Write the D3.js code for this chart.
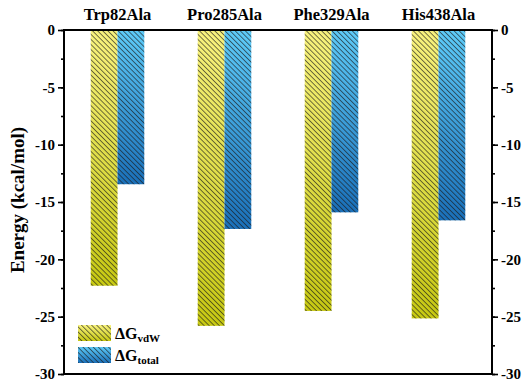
<!DOCTYPE html>
<html><head><meta charset="utf-8">
<script src="https://cdn.jsdelivr.net/npm/d3@7"></script>
<style>body{margin:0;background:#fff}svg{display:block}text{font-family:"Liberation Serif","Times New Roman",serif;font-weight:bold;fill:#000}</style>
</head><body>
<svg id="c" width="529" height="386"></svg>
<script>
const categories = ["Trp82Ala","Pro285Ala","Phe329Ala","His438Ala"];
const vdW = [-22.3, -25.8, -24.5, -25.15];
const total = [-13.45, -17.35, -15.9, -16.6];
const yTicks = [0,-5,-10,-15,-20,-25,-30];

const svg = d3.select("#c");
const m = {l:64, r:492, t:30, b:374};
const x = d3.scaleBand().domain(categories).range([m.l,m.r]).paddingInner(0.5).paddingOuter(0.25);
const xs = d3.scaleBand().domain(["vdW","total"]).range([0,x.bandwidth()]);
const y = d3.scaleLinear().domain([0,-30]).range([m.t,m.b]);

const defs = svg.append("defs");
function grad(id, c1, c2){
  const g = defs.append("linearGradient").attr("id",id).attr("x1",0).attr("y1",0).attr("x2",0).attr("y2",1);
  g.append("stop").attr("offset","0%").attr("stop-color",c1);
  g.append("stop").attr("offset","100%").attr("stop-color",c2);
}
grad("gy","#f8f27e","#c6c812");
grad("gb","#5ecbf8","#1a6fb8");
const pat = defs.append("pattern").attr("id","hatch").attr("patternUnits","userSpaceOnUse")
  .attr("width",3.6).attr("height",3.6).attr("patternTransform","rotate(-45)");
pat.append("line").attr("x1",0).attr("y1",0).attr("x2",0).attr("y2",3.6).attr("stroke","#1a1a1a").attr("stroke-width",1.2);

const series = [{k:"vdW",v:vdW,g:"url(#gy)"},{k:"total",v:total,g:"url(#gb)"}];
series.forEach(s=>{
  const gsel = svg.append("g");
  gsel.selectAll("rect.f").data(categories).join("rect")
    .attr("x",d=>x(d)+xs(s.k)).attr("width",xs.bandwidth())
    .attr("y",y(0)).attr("height",(d,i)=>y(s.v[i])-y(0))
    .attr("fill",s.g);
  gsel.selectAll("rect.h").data(categories).join("rect")
    .attr("x",d=>x(d)+xs(s.k)).attr("width",xs.bandwidth())
    .attr("y",y(0)).attr("height",(d,i)=>y(s.v[i])-y(0))
    .attr("fill","url(#hatch)");
});

// axes
const minor = d3.range(0,-30.1,-2.5);
const fmt = d => String(d);
const left = svg.append("g").attr("transform",`translate(${m.l},0)`);
left.call(d3.axisLeft(y).tickValues(minor).tickSize(3).tickFormat(""));
left.append("g").call(d3.axisLeft(y).tickValues(yTicks).tickSize(6).tickPadding(3).tickFormat(fmt));
const right = svg.append("g").attr("transform",`translate(${m.r},0)`);
right.call(d3.axisRight(y).tickValues(minor).tickSize(3).tickFormat(""));
right.append("g").call(d3.axisRight(y).tickValues(yTicks).tickSize(6).tickPadding(3).tickFormat(fmt));
svg.selectAll(".domain").remove();
svg.selectAll(".tick line").attr("stroke","#000").attr("stroke-width",1.6);
svg.selectAll(".tick text").attr("font-size",15).attr("font-family","Liberation Serif").attr("font-weight","bold").attr("fill","#000");

svg.append("rect").attr("x",m.l).attr("y",m.t).attr("width",m.r-m.l).attr("height",m.b-m.t)
  .attr("fill","none").attr("stroke","#000").attr("stroke-width",2);

// category labels
svg.selectAll("text.cat").data(categories).join("text").attr("class","cat")
  .attr("x",d=>x(d)+x.bandwidth()/2).attr("y",20).attr("text-anchor","middle")
  .attr("font-size",16.5).text(d=>d);

// y title
svg.append("text").attr("transform","translate(24,200) rotate(-90)").attr("text-anchor","middle")
  .attr("font-size",19).text("Energy (kcal/mol)");

// legend
const leg = [{g:"url(#gy)",main:"ΔG",sub:"vdW",y:325},{g:"url(#gb)",main:"ΔG",sub:"total",y:347}];
leg.forEach(l=>{
  svg.append("rect").attr("x",78).attr("y",l.y).attr("width",33).attr("height",16).attr("fill",l.g);
  svg.append("rect").attr("x",78).attr("y",l.y).attr("width",33).attr("height",16).attr("fill","url(#hatch)");
  const t = svg.append("text").attr("x",115).attr("y",l.y+14).attr("font-size",16);
  t.append("tspan").text(l.main);
  t.append("tspan").attr("font-size",11).attr("dy",3).text(l.sub);
});
</script>
</body></html>
